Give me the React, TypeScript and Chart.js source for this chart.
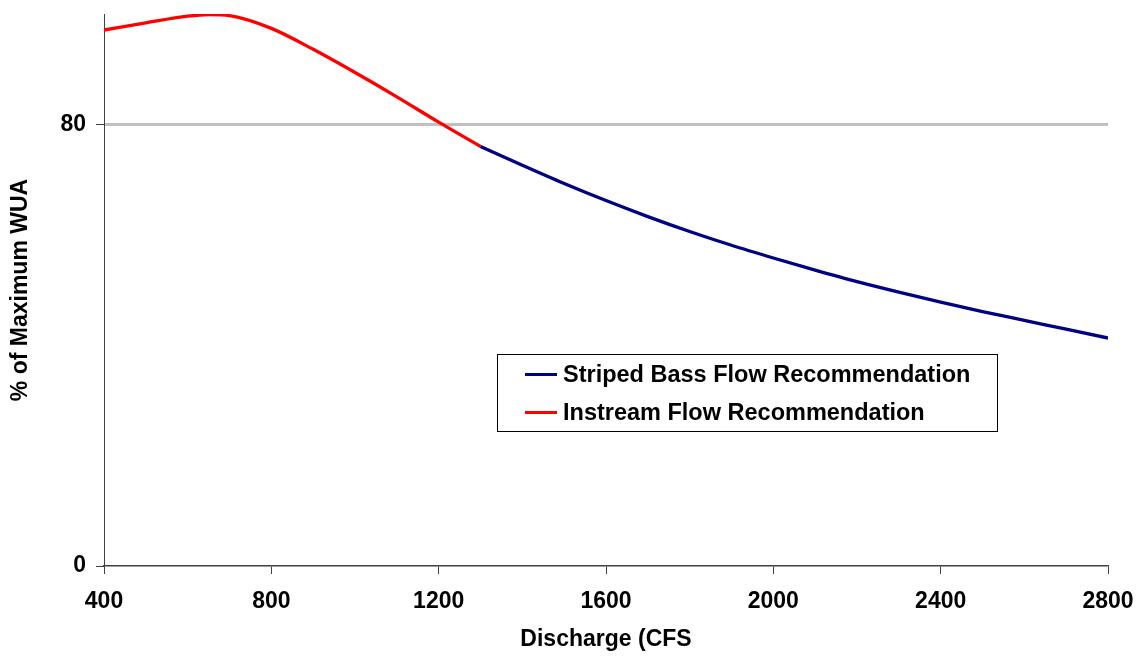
import React, { useEffect, useRef } from "react";
import { Chart, registerables } from "chart.js";

Chart.register(...registerables);

const instreamX = [400, 500, 600, 650, 700, 800, 900, 1000, 1100, 1200, 1300];
const instreamY = [97.1, 98.4, 99.6, 99.9, 99.7, 97.4, 93.6, 89.4, 85.0, 80.4, 76.0];

const stripedX = [1300, 1400, 1500, 1600, 1700, 1800, 1900, 2000, 2100, 2200, 2300, 2400, 2500, 2600, 2700, 2800];
const stripedY = [76.0, 72.6, 69.3, 66.2, 63.3, 60.6, 58.1, 55.8, 53.6, 51.5, 49.6, 47.8, 46.1, 44.5, 42.9, 41.3];

const xTicks = [400, 800, 1200, 1600, 2000, 2400, 2800];
const yTicks = [0, 80];

const seriesNames = ["Striped Bass Flow Recommendation", "Instream Flow Recommendation"];
const seriesColors = ["#000080", "#ff0000"];

const FONT = "'Liberation Sans', Arial, sans-serif";

const legendPlugin = {
  id: "boxLegend",
  afterDraw(chart: any) {
    const ctx = chart.ctx;
    ctx.save();
    const bx = 497.5, by = 354.5, bw = 500, bh = 77;
    ctx.strokeStyle = "#000000";
    ctx.lineWidth = 1;
    ctx.fillStyle = "#ffffff";
    ctx.fillRect(bx, by, bw, bh);
    ctx.strokeRect(bx, by, bw, bh);
    const rows = [374.5, 412.5];
    seriesNames.forEach((name, i) => {
      ctx.strokeStyle = seriesColors[i];
      ctx.lineWidth = 3;
      ctx.beginPath();
      ctx.moveTo(525, rows[i]);
      ctx.lineTo(557, rows[i]);
      ctx.stroke();
      ctx.fillStyle = "#000";
      ctx.font = `bold 23.5px ${FONT}`;
      ctx.textBaseline = "middle";
      ctx.textAlign = "left";
      ctx.fillText(name, 563, rows[i] + 1);
    });
    ctx.restore();
  },
};

export default function App() {
  const ref = useRef<HTMLCanvasElement>(null);
  useEffect(() => {
    if (!ref.current) return;
    const font = { family: FONT, size: 23, weight: "bold" as const };
    const chart = new Chart(ref.current, {
      type: "line",
      data: {
        datasets: [
          {
            label: seriesNames[0],
            data: stripedX.map((x, i) => ({ x, y: stripedY[i] })),
            borderColor: seriesColors[0],
            borderWidth: 3.3,
            pointRadius: 0,
            cubicInterpolationMode: "monotone",
            fill: false,
          },
          {
            label: seriesNames[1],
            data: instreamX.map((x, i) => ({ x, y: instreamY[i] })),
            borderColor: seriesColors[1],
            borderWidth: 3.3,
            pointRadius: 0,
            cubicInterpolationMode: "monotone",
            fill: false,
          },
        ],
      },
      options: {
        animation: false,
        responsive: false,
        layout: { padding: { top: 14, right: 33, left: 0, bottom: 0 } },
        plugins: { legend: { display: false }, tooltip: { enabled: false } },
        scales: {
          x: {
            type: "linear",
            min: 400,
            max: 2800,
            afterBuildTicks: (s: any) => {
              s.ticks = xTicks.map((v) => ({ value: v }));
            },
            afterFit: (s: any) => {
              s.height = 93;
              s.paddingLeft = 0;
              s.paddingRight = 0;
            },
            grid: {
              drawOnChartArea: false,
              drawTicks: true,
              tickLength: 8,
              tickColor: "#404040",
              tickWidth: 1,
            },
            border: { color: "#404040", width: 1.5 },
            ticks: {
              font,
              color: "#000",
              padding: 14,
              maxRotation: 0,
              autoSkip: false,
              callback: (v: any) => String(v),
            },
            title: {
              display: true,
              text: "Discharge (CFS",
              font,
              color: "#000",
              padding: { top: 0, bottom: 6 },
            },
          },
          y: {
            min: 0,
            max: 100,
            afterBuildTicks: (s: any) => {
              s.ticks = yTicks.map((v) => ({ value: v }));
            },
            afterFit: (s: any) => {
              s.width = 104;
              s.paddingTop = 0;
              s.paddingBottom = 0;
            },
            grid: {
              color: (c: any) => (c.tick && c.tick.value === 80 ? "#c0c0c0" : "rgba(0,0,0,0)"),
              lineWidth: 3,
              tickColor: "#404040",
              tickWidth: 1,
              tickLength: 8,
            },
            border: { color: "#404040", width: 1 },
            ticks: { font, color: "#000", padding: 10, callback: (v: any) => String(v) },
            title: {
              display: true,
              text: "% of Maximum WUA",
              font,
              color: "#000",
              padding: 7,
            },
          },
        },
      },
      plugins: [legendPlugin],
    });
    return () => chart.destroy();
  }, []);
  return (
    <div style={{ position: "fixed", left: 0, top: 0, width: 1141, height: 659, background: "#fff" }}>
      <canvas ref={ref} width={1141} height={659} />
    </div>
  );
}
